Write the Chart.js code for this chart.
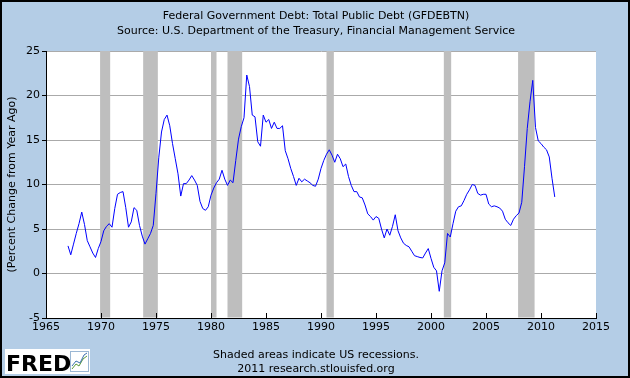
<!DOCTYPE html>
<html><head><meta charset="utf-8">
<script src="https://cdn.jsdelivr.net/npm/chart.js@4.4.0/dist/chart.umd.min.js"></script>
<style>html,body{margin:0;padding:0;background:#B4CDE6;overflow:hidden;} canvas{display:block;}</style>
</head><body>
<canvas id="c" width="630" height="378"></canvas>
<script>
// ---- text ----
const titleLines = ["Federal Government Debt: Total Public Debt (GFDEBTN)",
                    "Source: U.S. Department of the Treasury, Financial Management Service"];
const yAxisTitle = "(Percent Change from Year Ago)";
const footerLines = ["Shaded areas indicate US recessions.", "2011 research.stlouisfed.org"];

// ---- data: quarterly, percent change from year ago, first value = 1967 Q1 ----
const firstYear = 1967;
const pctChange = [
  3.1, 2.1, 3.3, 4.5,      // 1967
  5.6, 6.9, 5.5, 3.7,      // 1968
  3.0, 2.3, 1.8, 2.8,      // 1969
  3.6, 4.8, 5.3, 5.6,      // 1970
  5.2, 7.3, 8.9, 9.1,      // 1971
  9.2, 7.4, 5.2, 5.8,      // 1972
  7.4, 7.1, 5.4, 4.2,      // 1973
  3.3, 3.9, 4.5, 5.4,      // 1974
  9.0, 13.0, 15.9, 17.3,   // 1975
  17.8, 16.6, 14.6, 12.9,  // 1976
  11.2, 8.7, 10.1, 10.1,   // 1977
  10.5, 11.0, 10.5, 9.9,   // 1978
  8.1, 7.3, 7.1, 7.5,      // 1979
  8.8, 9.6, 10.2, 10.6,    // 1980
  11.6, 10.6, 9.9, 10.5,   // 1981
  10.2, 12.7, 15.1, 16.5,  // 1982
  17.5, 22.3, 21.0, 17.8,  // 1983
  17.6, 14.8, 14.3, 17.8,  // 1984
  17.0, 17.3, 16.3, 17.0,  // 1985
  16.3, 16.3, 16.6, 13.8,  // 1986
  12.9, 11.8, 10.9, 9.9,   // 1987
  10.7, 10.3, 10.6, 10.4,  // 1988
  10.2, 9.9, 9.8, 10.6,    // 1989
  11.8, 12.7, 13.4, 13.9,  // 1990
  13.3, 12.5, 13.4, 12.9,  // 1991
  12.0, 12.3, 10.9, 9.9,   // 1992
  9.2, 9.2, 8.6, 8.5,      // 1993
  7.7, 6.7, 6.4, 6.0,      // 1994
  6.4, 6.2, 5.0, 4.0,      // 1995
  5.0, 4.3, 5.3, 6.6,      // 1996
  4.8, 4.0, 3.4, 3.15,     // 1997
  3.0, 2.5, 2.0, 1.9,      // 1998
  1.8, 1.75, 2.3, 2.8,     // 1999
  1.7, 0.7, 0.3, -2.0,     // 2000
  0.3, 1.2, 4.5, 4.1,      // 2001
  5.6, 7.0, 7.5, 7.6,      // 2002
  8.2, 8.9, 9.4, 10.0,     // 2003
  9.9, 9.0, 8.8, 8.9,      // 2004
  8.9, 7.8, 7.5, 7.6,      // 2005
  7.5, 7.35, 7.0, 6.1,     // 2006
  5.7, 5.4, 6.1, 6.5,      // 2007
  6.8, 8.0, 12.0, 16.3,    // 2008
  19.3, 21.7, 16.4, 14.9,  // 2009
  14.6, 14.2, 13.9, 13.1,  // 2010
  10.7, 8.6                // 2011
];

// ---- recessions (decimal years) ----
const recessionStart = [1969.917, 1973.833, 1980.0, 1981.5, 1990.5, 2001.167, 2007.917];
const recessionEnd   = [1970.833, 1975.167, 1980.5, 1982.833, 1991.167, 2001.833, 2009.417];

// ---- axes ----
const xMin = 1965, xMax = 2015, xStep = 5;
const yMin = -5, yMax = 25, yStep = 5;

const FONT = "DejaVu Sans";
const BG = "#B4CDE6";

const points = pctChange.map((v, i) => ({ x: firstYear + i / 4, y: v }));

const decorPlugin = {
  id: 'decor',
  beforeDraw(chart) {
    const ctx = chart.ctx, a = chart.chartArea;
    ctx.save();
    ctx.fillStyle = BG;
    ctx.fillRect(0, 0, chart.width, chart.height);
    ctx.fillStyle = '#FFFFFF';
    ctx.fillRect(a.left, a.top, a.right - a.left, a.bottom - a.top);
    ctx.restore();
  },
  beforeDatasetsDraw(chart) {
    const ctx = chart.ctx, a = chart.chartArea, xs = chart.scales.x;
    ctx.save();
    ctx.fillStyle = '#BEBEBE';
    for (let i = 0; i < recessionStart.length; i++) {
      const x0 = xs.getPixelForValue(recessionStart[i]);
      const x1 = xs.getPixelForValue(recessionEnd[i]);
      ctx.fillRect(x0, a.top, x1 - x0, a.bottom - a.top - 0.5);
    }
    ctx.restore();
  },
  afterDatasetsDraw(chart) {
    const ctx = chart.ctx, a = chart.chartArea, xs = chart.scales.x;
    ctx.save();
    ctx.strokeStyle = '#000';
    ctx.lineWidth = 1;
    ctx.beginPath();
    for (let v = xMin; v <= xMax; v += xStep) {
      const px = Math.round(xs.getPixelForValue(v)) + 0.5;
      ctx.moveTo(px, a.bottom);
      ctx.lineTo(px, a.bottom - 5);
    }
    ctx.stroke();
    ctx.restore();
  },
  afterDraw(chart) {
    const ctx = chart.ctx;
    ctx.save();
    ctx.fillStyle = '#000';
    ctx.font = '11px "' + FONT + '"';
    ctx.textAlign = 'center';
    ctx.textBaseline = 'middle';
    ctx.fillText(titleLines[0], 316, 16);
    ctx.fillText(titleLines[1], 316, 31);
    ctx.fillText(footerLines[0], 316, 355);
    ctx.fillText(footerLines[1], 316, 369);
    // FRED logo
    ctx.fillStyle = '#FFFFFF';
    ctx.fillRect(5, 349, 85, 25);
    ctx.fillStyle = '#000';
    ctx.font = 'bold 22px "' + FONT + '"';
    ctx.textAlign = 'left';
    ctx.textBaseline = 'alphabetic';
    ctx.fillText('FRED', 6, 371);
    // small chart icon
    ctx.strokeStyle = '#9BB7D4';
    ctx.lineWidth = 1;
    ctx.strokeRect(70.5, 351.5, 18, 20);
    ctx.strokeStyle = '#5A9A3C';
    ctx.beginPath();
    ctx.moveTo(72, 369); ctx.lineTo(76, 364); ctx.lineTo(79, 366); ctx.lineTo(83, 359); ctx.lineTo(87, 356);
    ctx.stroke();
    ctx.strokeStyle = '#3B6FB0';
    ctx.beginPath();
    ctx.moveTo(72, 366); ctx.lineTo(76, 361); ctx.lineTo(80, 363); ctx.lineTo(84, 355); ctx.lineTo(87, 353);
    ctx.stroke();
    // outer frame
    ctx.strokeStyle = '#000';
    ctx.lineWidth = 2;
    ctx.strokeRect(1, 1, chart.width - 2, chart.height - 2);
    ctx.restore();
  }
};

new Chart(document.getElementById('c'), {
  type: 'line',
  data: {
    datasets: [{
      data: points,
      borderColor: '#0000FF',
      borderWidth: 1,
      pointRadius: 0,
      tension: 0,
      fill: false
    }]
  },
  options: {
    responsive: false,
    devicePixelRatio: 1,
    animation: false,
    layout: { padding: { left: 0, right: 34, top: 51, bottom: 40 } },
    plugins: { legend: { display: false }, tooltip: { enabled: false } },
    scales: {
      x: {
        type: 'linear', min: xMin, max: xMax,
        ticks: { stepSize: xStep, autoSkip: false, maxRotation: 0, padding: 3, color: '#000',
                 font: { family: FONT, size: 11 }, callback: v => String(v) },
        grid: { display: true, drawOnChartArea: false, drawTicks: false },
        border: { display: true, color: '#000', width: 1 },
        afterFit: s => { s.height = 20; }
      },
      y: {
        type: 'linear', min: yMin, max: yMax,
        ticks: { stepSize: yStep, padding: 2, color: '#000', font: { family: FONT, size: 11 } },
        grid: { color: '#AAAAAA', tickColor: '#000', tickLength: 4, lineWidth: 1 },
        border: { display: true, color: '#000', width: 1 },
        title: { display: true, text: yAxisTitle, color: '#000', font: { family: FONT, size: 11 },
                 padding: { top: 6, bottom: 0 } },
        afterFit: s => { s.width = 46; }
      }
    }
  },
  plugins: [decorPlugin]
});
</script>
</body></html>
